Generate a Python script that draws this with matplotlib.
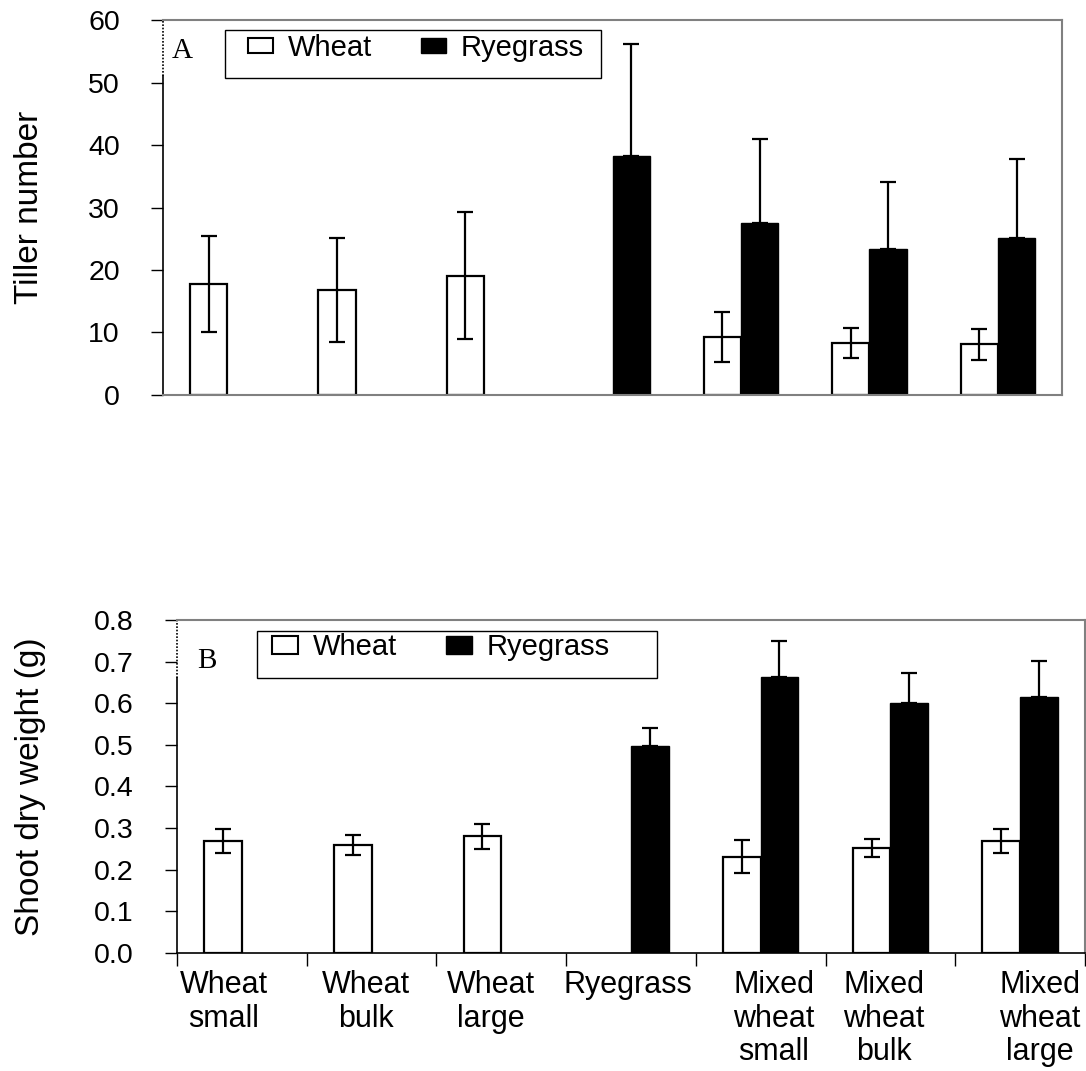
import numpy as np
import matplotlib
matplotlib.use("Agg")
import matplotlib.pyplot as plt
from matplotlib.patches import Patch, Rectangle

plt.rcParams['font.family'] = ['Liberation Sans', 'DejaVu Sans']

categories = ["Wheat\nsmall", "Wheat\nbulk", "Wheat\nlarge", "Ryegrass",
              "Mixed\nwheat\nsmall", "Mixed\nwheat\nbulk", "Mixed\nwheat\nlarge"]

nan = np.nan
wheat_tiller = [17.8, 16.8, 19.1, nan, 9.3, 8.3, 8.1]
wheat_tiller_se = [7.7, 8.4, 10.2, nan, 4.0, 2.4, 2.5]
rye_tiller = [nan, nan, nan, 38.3, 27.6, 23.4, 25.2]
rye_tiller_se = [nan, nan, nan, 17.8, 13.4, 10.7, 12.5]

wheat_sdw = [0.269, 0.260, 0.281, nan, 0.231, 0.252, 0.269]
wheat_sdw_se = [0.030, 0.024, 0.030, nan, 0.040, 0.022, 0.030]
rye_sdw = [nan, nan, nan, 0.498, 0.663, 0.601, 0.615]
rye_sdw_se = [nan, nan, nan, 0.043, 0.087, 0.072, 0.087]

fig = plt.figure(figsize=(10.86, 10.71), dpi=100)
axA = fig.add_axes([0.150, 0.6312, 0.828, 0.3501])
axB = fig.add_axes([0.163, 0.1102, 0.836, 0.3109])

TICK_FS = 20.5
LAB_FS = 24
LEG_FS = 21
CAT_FS = 22
W = 0.29
GRAY = '#808080'


def draw(ax, wv, we, rv, re_, ymax, ystep, fmt, letter, letter_xy,
         frame_rect, leg_xy, handle_h, handle_l):
    n = len(categories)
    c = np.arange(n) + 0.5
    wv = np.array(wv, float); we = np.array(we, float)
    rv = np.array(rv, float); re_ = np.array(re_, float)
    mw = ~np.isnan(wv)
    mr = ~np.isnan(rv)
    ax.bar(c[mw] - W / 2, wv[mw], W, color='white', edgecolor='black', linewidth=1.6, zorder=2)
    ax.bar(c[mr] + W / 2, rv[mr], W, color='black', edgecolor='black', linewidth=1.0, zorder=2)
    ax.errorbar(c[mw] - W / 2, wv[mw], yerr=we[mw], fmt='none', ecolor='black',
                elinewidth=1.6, capsize=6, capthick=1.6, zorder=3)
    ax.errorbar(c[mr] + W / 2, rv[mr], yerr=[np.zeros(mr.sum()), re_[mr]], fmt='none',
                ecolor='black', elinewidth=1.6, capsize=6, capthick=1.6, zorder=1)
    ax.set_xlim(0, n)
    ax.set_ylim(0, ymax)
    ticks = np.arange(0, ymax + ystep / 2, ystep)
    ax.set_yticks(ticks)
    ax.set_yticklabels([fmt.format(t) for t in ticks], fontsize=TICK_FS)
    ax.tick_params(axis='y', direction='out', length=9, width=1.0, pad=22)
    for s in ('top', 'right'):
        ax.spines[s].set_color(GRAY)
        ax.spines[s].set_linewidth(1.5)
    ax.spines['left'].set_color('black')
    ax.spines['left'].set_linewidth(1.2)
    ax.text(letter_xy[0], letter_xy[1], letter, transform=ax.transAxes,
            fontsize=21, family='Liberation Serif', ha='left', va='baseline')
    # legend frame
    x0, y0, x1, y1 = frame_rect
    ax.add_patch(Rectangle((x0, y0), x1 - x0, y1 - y0, transform=ax.transAxes,
                           facecolor='white', edgecolor='black', linewidth=1.0,
                           zorder=4, clip_on=False))
    handles = [Patch(facecolor='white', edgecolor='black', linewidth=1.5, label='Wheat'),
               Patch(facecolor='black', edgecolor='black', label='Ryegrass')]
    leg = ax.legend(handles=handles, ncol=2, loc='center left', bbox_to_anchor=leg_xy,
                    fontsize=LEG_FS, frameon=False, borderaxespad=0, borderpad=0,
                    handlelength=handle_l, handleheight=handle_h,
                    columnspacing=1.68, handletextpad=0.5)
    leg.set_zorder(5)
    return ax


draw(axA, wheat_tiller, wheat_tiller_se, rye_tiller, rye_tiller_se, 60, 10, "{:.0f}",
     "A", (0.010, 0.899), (0.069, 0.845, 0.487, 0.973), (0.0945, 0.925), 0.41, 0.86)
axA.spines['bottom'].set_color(GRAY)
axA.spines['bottom'].set_linewidth(1.5)
axA.set_xticks([])
axA.spines['left'].set_bounds(0, 51)
axA.plot([0, 0], [51, 60], transform=axA.transData, color='black', lw=1.2,
         ls=(0, (1, 1)), clip_on=False)
axA.set_ylabel("Tiller number", fontsize=LAB_FS)
axA.yaxis.set_label_coords(-0.131, 0.5)

draw(axB, wheat_sdw, wheat_sdw_se, rye_sdw, rye_sdw_se, 0.8, 0.1, "{:.1f}",
     "B", (0.022, 0.856), (0.088, 0.826, 0.5286, 0.967), (0.1046, 0.919), 0.58, 0.89)
axB.spines['bottom'].set_color('black')
axB.spines['bottom'].set_linewidth(1.2)
axB.spines['left'].set_bounds(0, 0.66)
axB.plot([0, 0], [0.66, 0.8], transform=axB.transData, color='black', lw=1.2,
         ls=(0, (1, 1)), clip_on=False)
axB.set_xticks(np.arange(len(categories) + 1))
axB.set_xticklabels([])
axB.tick_params(axis='x', direction='out', length=9, width=1.0)
label_dx = [-0.14, -0.04, -0.08, -0.02, 0.10, -0.05, 0.15]
for i, lab in enumerate(categories):
    axB.text(i + 0.5 + label_dx[i], -0.052, lab, transform=axB.get_xaxis_transform(),
             ha='center', va='top', fontsize=CAT_FS, linespacing=1.15)
axB.set_ylabel("Shoot dry weight (g)", fontsize=LAB_FS)
axB.yaxis.set_label_coords(-0.144, 0.5)

fig.savefig("out.png", dpi=100)
